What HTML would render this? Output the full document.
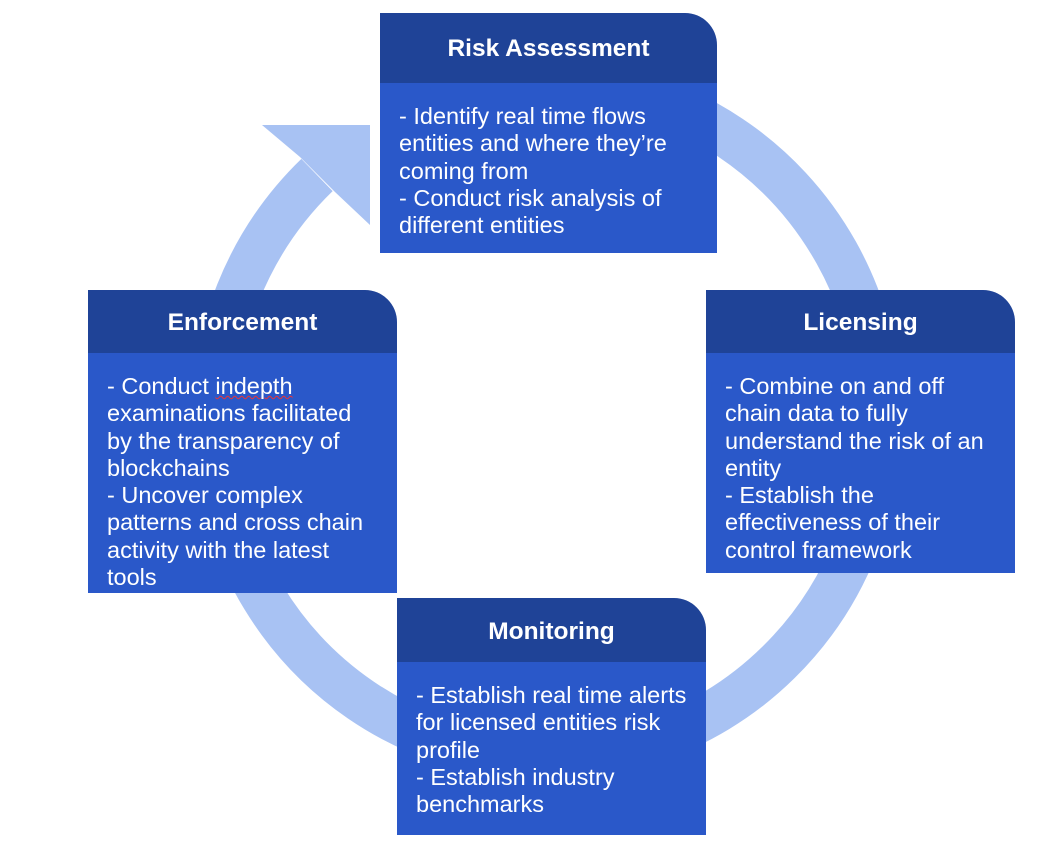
<!DOCTYPE html>
<html><head><meta charset="utf-8"><style>
body{margin:0;width:1058px;height:848px;background:#fff;position:relative;overflow:hidden;font-family:"Liberation Sans",sans-serif}
.b{position:absolute;color:#fff}
.h{background:#1f4397;border-top-right-radius:32px;font-weight:bold;font-size:24.5px;text-align:center;box-sizing:border-box;padding-top:3px}
.d{background:#2a58c9;font-size:23.5px;line-height:27.3px;white-space:nowrap;box-sizing:border-box;padding-left:19px}
</style></head><body>
<svg width="1058" height="848" style="position:absolute;left:0;top:0">
<path d="M317 175 A333 338 0 1 0 600 86" fill="none" stroke="#a8c2f3" stroke-width="45"/>
<polygon points="262,125 370,125 370,225 335,192 300,157" fill="#a8c2f3"/>
</svg>

<div class="b h" style="left:380px;top:13px;width:337px;height:70px;line-height:66px">Risk Assessment</div>
<div class="b d" style="left:380px;top:83px;width:337px;height:170px;padding-top:20px">- Identify real time flows<br>entities and where they’re<br>coming from<br>- Conduct risk analysis of<br>different entities</div>

<div class="b h" style="left:88px;top:290px;width:309px;height:63px;line-height:60px">Enforcement</div>
<div class="b d" style="left:88px;top:353px;width:309px;height:240px;padding-top:20px">- Conduct <span style="text-decoration:underline wavy #e33;text-decoration-thickness:1px">indepth</span><br>examinations facilitated<br>by the transparency of<br>blockchains<br>- Uncover complex<br>patterns and cross chain<br>activity with the latest<br>tools</div>

<div class="b h" style="left:706px;top:290px;width:309px;height:63px;line-height:60px">Licensing</div>
<div class="b d" style="left:706px;top:353px;width:309px;height:220px;padding-top:20px">- Combine on and off<br>chain data to fully<br>understand the risk of an<br>entity<br>- Establish the<br>effectiveness of their<br>control framework</div>

<div class="b h" style="left:397px;top:598px;width:309px;height:64px;line-height:61px">Monitoring</div>
<div class="b d" style="left:397px;top:662px;width:309px;height:173px;padding-top:20px">- Establish real time alerts<br>for licensed entities risk<br>profile<br>- Establish industry<br>benchmarks</div>
</body></html>
